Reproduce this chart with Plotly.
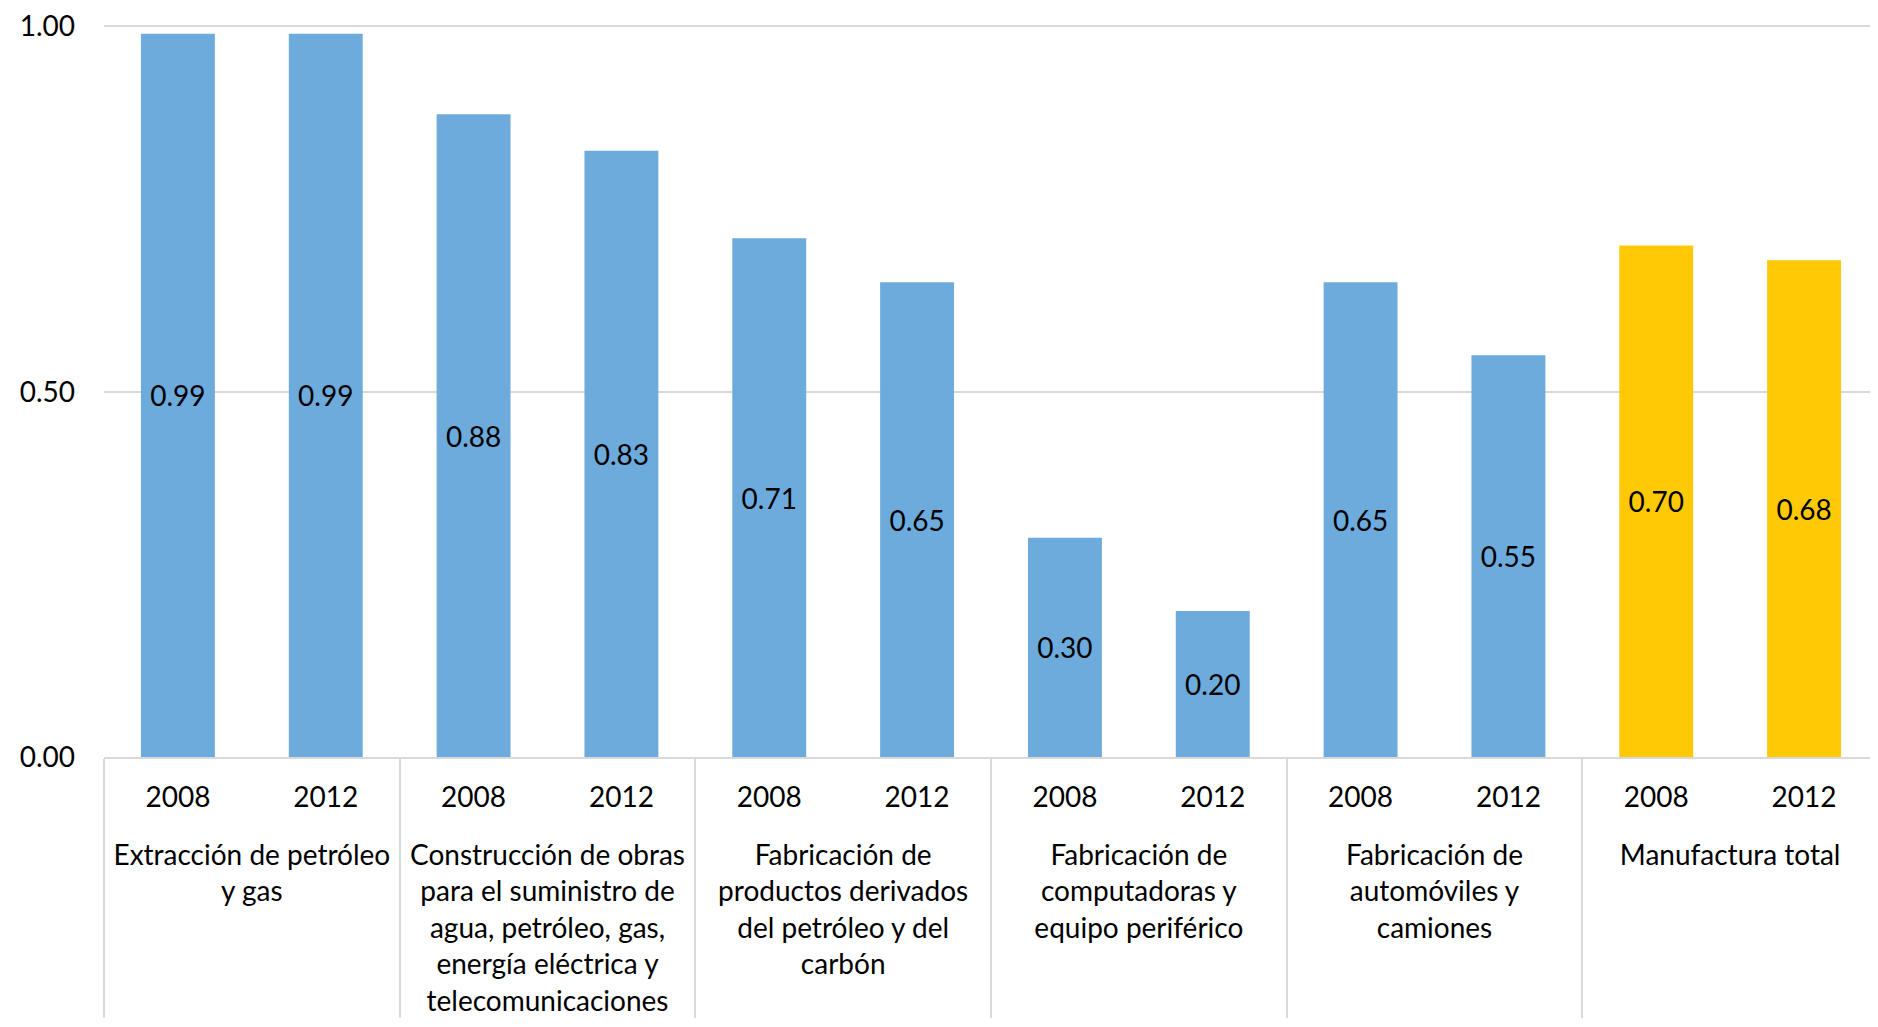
import plotly.graph_objects as go

groups = [
    "Extracción de petróleo<br>y gas",
    "Construcción de obras<br>para el suministro de<br>agua, petróleo, gas,<br>energía eléctrica y<br>telecomunicaciones",
    "Fabricación de<br>productos derivados<br>del petróleo y del<br>carbón",
    "Fabricación de<br>computadoras y<br>equipo periférico",
    "Fabricación de<br>automóviles y<br>camiones",
    "Manufactura total",
]
years = ["2008", "2012"]
values = [0.99, 0.99, 0.88, 0.83, 0.71, 0.65, 0.30, 0.20, 0.65, 0.55, 0.70, 0.68]
y_ticks = [0.0, 0.5, 1.0]

BLUE = "#6CABDC"
GOLD = "#FFC906"
FONT = "Lato, 'Open Sans', sans-serif"
FS = 28

# leading blank line separates the group row from the year row
x_groups = ["<br>" + g for g in groups for _ in years]
x_years = [y for _ in groups for y in years]
colors = [GOLD if "Manufactura total" in g else BLUE for g in x_groups]

fig = go.Figure(
    go.Bar(
        x=[x_groups, x_years],
        y=values,
        marker=dict(color=colors, line=dict(width=0)),
        texttemplate="%{y:.2f}",
        textposition="inside",
        insidetextanchor="middle",
        textangle=0,
        constraintext="none",
        textfont=dict(family=FONT, size=FS, color="#000000"),
        hoverinfo="skip",
    )
)

fig.update_layout(
    width=1870,
    height=1019,
    margin=dict(l=96, r=0, t=17, b=270),
    paper_bgcolor="white",
    plot_bgcolor="white",
    bargap=0.5,
    showlegend=False,
    font=dict(family=FONT, size=FS, color="#000000"),
)

fig.update_xaxes(
    type="multicategory",
    showline=True,
    linecolor="#D9D9D9",
    linewidth=2,
    showgrid=False,
    ticks="",
    showdividers=True,
    dividercolor="#D9D9D9",
    dividerwidth=2,
    ticklabelstandoff=14,
    tickfont=dict(family=FONT, size=FS, color="#000000"),
    automargin=False,
)

fig.update_yaxes(
    range=[0, 1.002],
    tickvals=y_ticks,
    tickformat=".2f",
    showgrid=True,
    gridcolor="#D9D9D9",
    gridwidth=2,
    zeroline=False,
    showline=False,
    ticks="",
    ticklabelstandoff=28,
    ticklabeloverflow="allow",
    tickfont=dict(family=FONT, size=FS, color="#000000"),
    automargin=False,
)

fig.write_html("out.html")
